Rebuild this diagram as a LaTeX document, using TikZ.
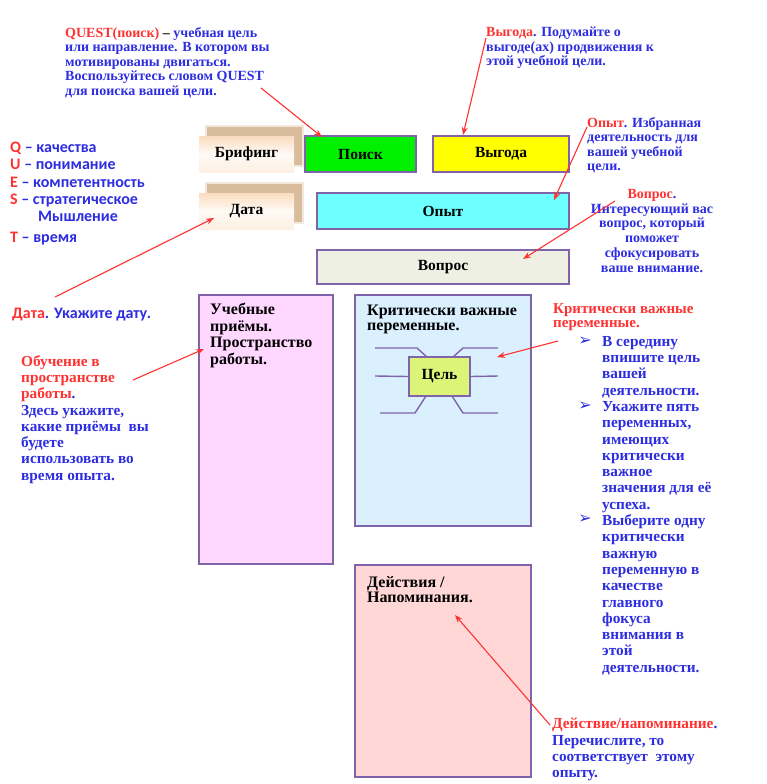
\documentclass[tikz,border=0pt]{standalone}
\usepackage{fontspec}
\setmainfont{Liberation Serif}
\newfontfamily\calib{Carlito}
\newfontfamily\dejavu{DejaVu Sans}
\usetikzlibrary{arrows.meta,calc}
\definecolor{qred}{RGB}{255,50,50}
\definecolor{qblue}{RGB}{45,45,225}
\definecolor{bpurple}{RGB}{128,100,170}
\definecolor{bgreen}{RGB}{0,240,0}
\definecolor{byellow}{RGB}{255,255,0}
\definecolor{bcyan}{RGB}{110,255,255}
\definecolor{bbeige}{RGB}{238,240,228}
\definecolor{bpink}{RGB}{255,215,255}
\definecolor{bblue}{RGB}{218,240,255}
\definecolor{bsalmon}{RGB}{255,215,215}
\definecolor{blime}{RGB}{220,245,120}
\definecolor{peach}{RGB}{250,220,190}
\definecolor{shadowtan}{RGB}{200,160,115}
\tikzset{
  box/.style={draw=bpurple, line width=1.6pt, inner sep=0pt, font=\bfseries\fontsize{15.5}{16}\selectfont},
  note/.style={inner sep=0pt, anchor=north west, align=left, text=qblue, font=\bfseries\fontsize{14}{14.5}\selectfont},
  bignote/.style={note, font=\bfseries\fontsize{15.3}{16.3}\selectfont},
  sansnote/.style={inner sep=0pt, anchor=north west, align=left, text=qblue, font=\calib\bfseries\fontsize{16}{17.3}\selectfont},
  boxtext/.style={inner sep=0pt, anchor=north west, align=left, text=black, font=\bfseries\fontsize{16}{16.5}\selectfont},
  arr/.style={draw=qred, line width=1.1pt, -{Stealth[length=8pt,width=6pt]}},
  leg/.style={draw=bpurple, line width=1.4pt},
  shbox/.style={inner sep=0pt, minimum width=95pt, minimum height=36pt, top color=peach, bottom color=peach!45, middle color=peach!15, font=\bfseries\fontsize{15.5}{16}\selectfont}
}
\begin{document}
\begin{tikzpicture}[x=1pt,y=-1pt]
\useasboundingbox (0,0) rectangle (766,784);
\fill[white] (0,0) rectangle (766,784);

% shadows of the briefing/date boxes
\foreach \yy in {127,184}{
  \fill[shadowtan, opacity=0.25] (205,\yy-2) rectangle (304,\yy+40);
  \fill[shadowtan, opacity=0.6] (207,\yy) rectangle (302,\yy+38);
}
\node[shbox] (brief) at (246.5,154) {Брифинг};
\node[shbox] (data) at (246.5,211) {Дата};

% top boxes
\node[box, fill=bgreen, minimum width=111pt, minimum height=36pt] (poisk) at (360.5,154) {Поиск};
\node[box, fill=byellow, minimum width=136pt, minimum height=36pt] (vygoda) at (501,154) {Выгода};
\node[box, fill=bcyan, minimum width=252pt, minimum height=36pt] (opyt) at (443,211) {Опыт};
\node[box, fill=bbeige, minimum width=252pt, minimum height=34pt] (vopros) at (443,267) {Вопрос};

% large boxes
\node[box, fill=bpink, minimum width=134pt, minimum height=269pt] (uch) at (266,429.5) {};
\node[boxtext] (uchtext) at (210,303) {Учебные\\приёмы.\\Пространство\\работы.};
\node[box, fill=bblue, minimum width=176pt, minimum height=231pt] (krit) at (443,410.5) {};
\node[boxtext, font=\bfseries\fontsize{16}{15}\selectfont] (krittext) at (367,305) {Критически важные\\переменные.};
\node[box, fill=bsalmon, minimum width=176pt, minimum height=212pt] (deist) at (443,671) {};
\node[boxtext, font=\bfseries\fontsize{16}{15}\selectfont] (deisttext) at (367,576) {Действия /\\Напоминания.};

% goal box and legs
\node[box, fill=blime, minimum width=61pt, minimum height=39pt] (tsel) at (439.5,376.5) {\raisebox{4pt}{Цель}};
\draw[leg] (375,348) -- (417,348) -- (427,357);
\draw[leg] (498,348) -- (463,348) -- (453,357);
\draw[leg] (375,376) -- (tsel.west);
\draw[leg] (tsel.east) -- (498,376);
\draw[leg] (380,413) -- (415,413) -- (426,396);
\draw[leg] (498,413) -- (463,413) -- (452,396);

% annotations
\node[note] (quest) at (65,27) {\textcolor{qred}{QUEST(поиск)} \textcolor{black}{–} учебная цель\\или направление. В котором вы\\мотивированы двигаться.\\Воспользуйтесь словом QUEST\\для поиска вашей цели.};
\node[note] (vygtext) at (486,27) {\textcolor{qred}{Выгода}. Подумайте о\\выгоде(ах) продвижения к\\этой учебной цели.};
\node[note] (opyttext) at (587,117) {\textcolor{qred}{Опыт}. Избранная\\деятельность для\\вашей учебной\\цели.};
\node[note, anchor=north, align=center, font=\bfseries\fontsize{14}{14.8}\selectfont] (voptext) at (652,189) {\textcolor{qred}{Вопрос}.\\Интересующий вас\\вопрос, который\\поможет\\сфокусировать\\ваше внимание.};
\node[sansnote] (qlist) at (10,142) {\textcolor{qred}{Q} – качества\\\textcolor{qred}{U} – понимание\\\textcolor{qred}{E} – компетентность\\\textcolor{qred}{S} – стратегическое\\\hspace*{28pt}Мышление\\[3pt]\textcolor{qred}{T} – время};
\node[sansnote] (datanote) at (12,308) {\textcolor{qred}{Дата}. Укажите дату.};
\node[bignote] (obuch) at (21,355) {\textcolor{qred}{Обучение в}\\\textcolor{qred}{пространстве}\\\textcolor{qred}{работы}.\\Здесь укажите,\\какие приёмы\ \ вы\\будете\\использовать во\\время опыта.};
\node[bignote, text=qred, font=\bfseries\fontsize{15}{14.5}\selectfont] (kritnote) at (553,303) {Критически важные\\переменные.};
\node[bignote] (kritlist) at (602,336) {В середину\\впишите цель\\вашей\\деятельности.\\Укажите пять\\переменных,\\имеющих\\критически\\важное\\значения для её\\успеха.\\Выберите одну\\критически\\важную\\переменную в\\качестве\\главного\\фокуса\\внимания в\\этой\\деятельности.};
\foreach \yy [count=\i] in {341,406,519}{
  \node[inner sep=0pt, text=qblue, font=\dejavu\fontsize{16}{16}\selectfont] (bul\i) at (585,\yy) {➢};
}
\node[bignote] (deistnote) at (552,718) {\textcolor{qred}{Действие/напоминание}.\\Перечислите, то\\соответствует\ \ этому\\опыту.};

% arrow ends
\coordinate (a1s) at (261,88);  \coordinate (a1e) at (322,137);
\coordinate (a2s) at (486,38);  \coordinate (a2e) at (463,135);
\coordinate (a3s) at (587,127); \coordinate (a3e) at (554,200);
\coordinate (a4s) at (615,201); \coordinate (a4e) at (523,259);
\coordinate (a5s) at (55,297);  \coordinate (a5e) at (214,218);
\coordinate (a6s) at (133,380); \coordinate (a6e) at (204,349);
\coordinate (a7s) at (558,341); \coordinate (a7e) at (497,357);
\coordinate (a8s) at (550,725); \coordinate (a8e) at (455,615);
\foreach \i in {1,...,8}{\draw[arr] (a\i s) -- (a\i e);}
\end{tikzpicture}
\end{document}
